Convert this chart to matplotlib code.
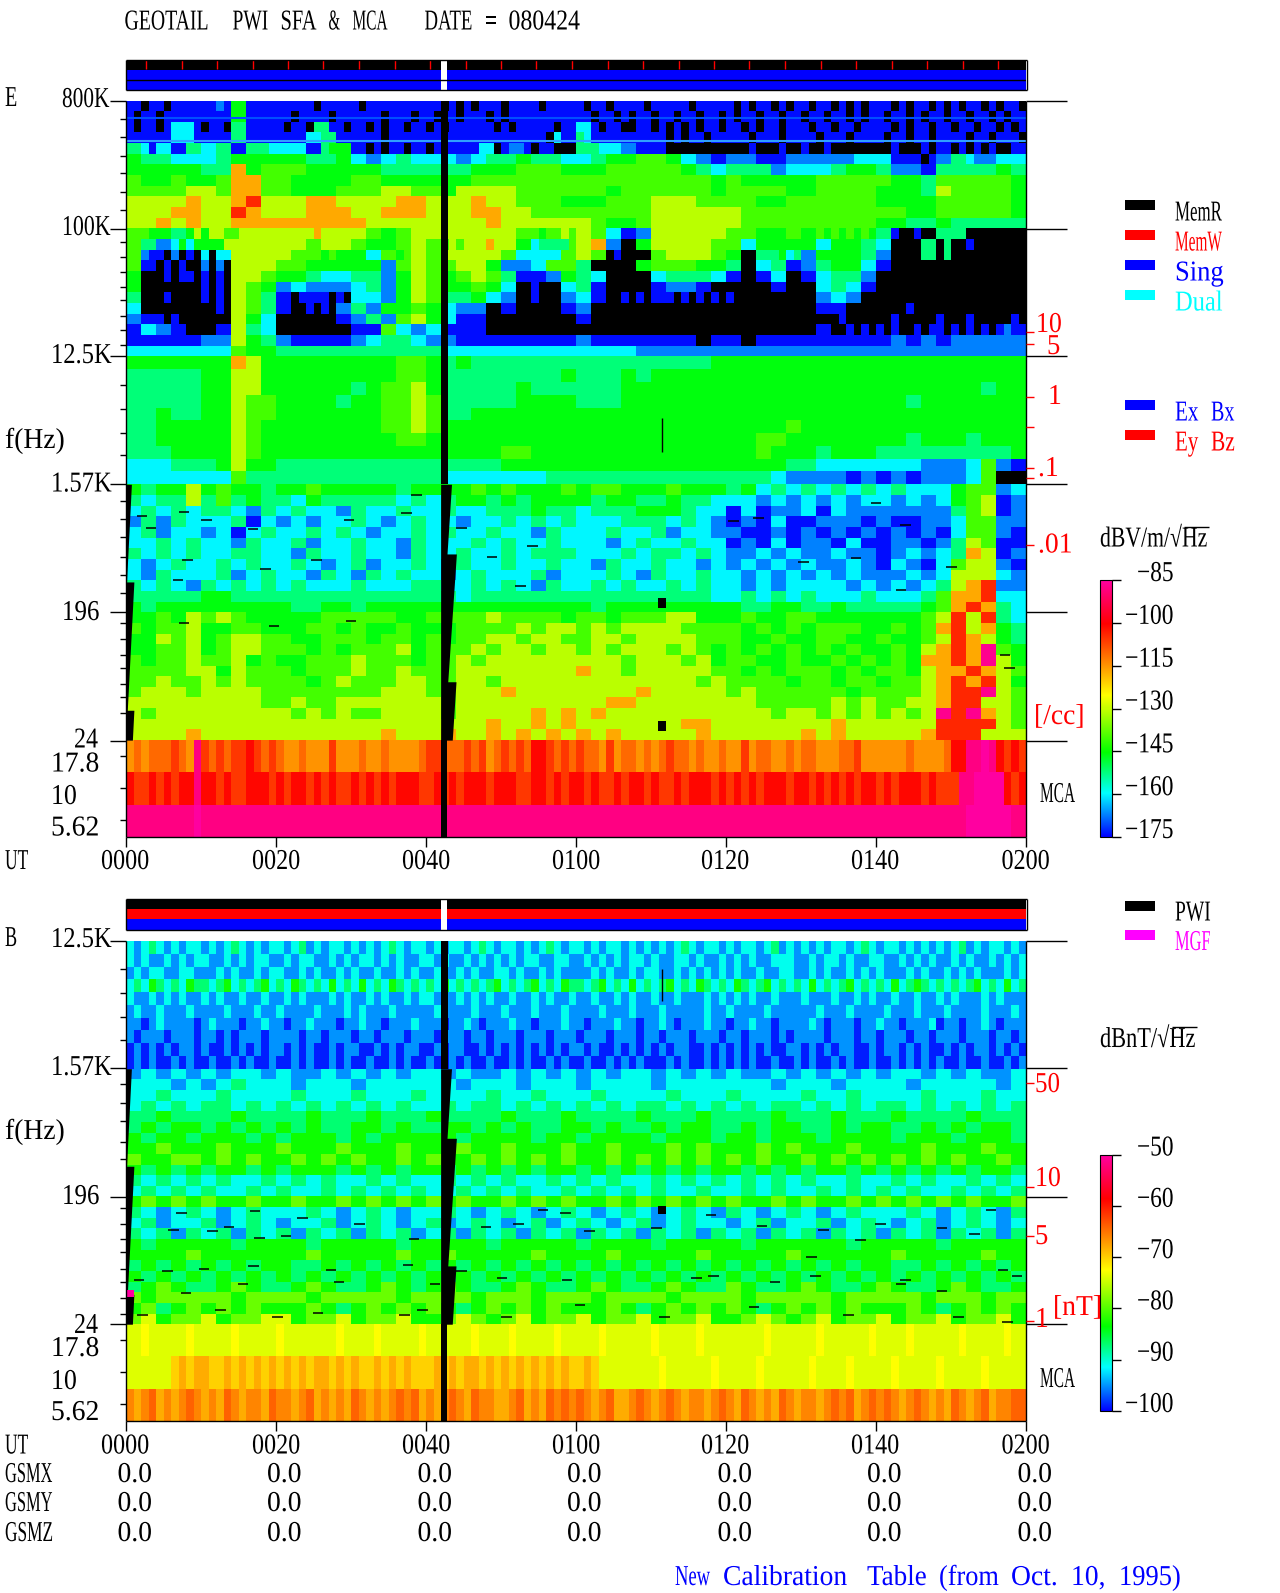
"""
GEOTAIL PWI SFA & MCA summary plot, redrawn with matplotlib.
Spectrogram levels are read by eye from the picture, one code per cell.
"""
import matplotlib
matplotlib.use("Agg")
import matplotlib.pyplot as plt
import matplotlib.patheffects as pe
import numpy as np
from matplotlib.colors import LinearSegmentedColormap, Normalize
from matplotlib.font_manager import FontProperties
from matplotlib.textpath import TextPath
from matplotlib.transforms import Affine2D

W, H = 1280, 1593
FONT = "Liberation Serif"

# level code -> dB, E panel and B panel
E_DB = {'0': -190, '1': -174, '2': -167, '3': -160, '4': -152, '5': -146, '6': -140, '7': -131,
        '8': -117, '9': -104, 'p': -87, 'a': -115, 'b': -111, 'c': -106, 'd': -101, 'e': -88, 'f': -85}
B_DB = {'0': -110, '1': -99, '2': -95, '3': -91, '4': -87, '5': -83, '6': -79, '7': -74, '8': -68,
        'a': -74, 'b': -72.5, 'c': -70, 'd': -68, 'e': -66, 'f': -64}

# E panel, 800K - 278K, top of the wave band
E_TOP = [
    "1101101111 1121551111 1111101111 1011111111 1101010111 0111101111 "
    "1011011110 1111101111 1010110101 1011010101 1101011010 1011010110",
    "1011011111 1111551111 1101111011 1111011101 1011011101 0111111111 "
    "1101101011 0110110110 1011011011 0110110101 1011010110 1101101011",
    "1011013331 0110441111 1011044110 1101011011 0101111110 1011111011 "
    "3310110011 0101010110 1101011011 1011011011 1101011011 0110110101",
    "1111113331 1111441111 1111334411 1111011111 1111111111 1111110311 "
    "4311111111 1101011011 1110111011 1101110111 1011011011 1101101110",
    "4431331144 3344114443 3333114555 1101011011 0111111330 1221011000 "
    "4443332211 1100000000 0001000100 1001000000 0010001011 0101010011",
    "5544443333 3344555555 5555444455 3322334433 3333223344 4455444433 "
    "3344555566 6655332211 2222111122 2222222333 3311110122 4432223333",
]
# E panel, 278K - 98K, core of the wave band
E_CORE = [
    "5555544856 6655555444 4445556665 5566666543 4442333455 4221444454",
    "6556556886 6555566555 5556666666 6666666665 6555556666 6554666665",
    "6666776886 6555666776 6577776666 6656666665 6666556666 5554766665",
    "7777877897 7788777788 7778776665 5566677766 6655666666 5555666665",
    "7778877987 7788877888 7778877666 6666677777 7666666666 6655666665",
    "7787877888 8888887777 7777877777 7655677777 7666666666 5544544444",
]
# E panel, 98K - 12.5K, fingers reaching down into the black
E_FINGERS = [
    "6665554457 5776677777 7777787777 7766556677 7777777777 7766656676 "
    "7766331122 7777777777 6666555566 5565656565 4410010044 4400000000",
    "6644223535 5557777777 7777667777 6655556677 6667677787 7755344446 "
    "7788220055 7777777766 6633555555 5533555544 3300004404 0010000000",
    "6621102010 3033777777 7766665655 5533665677 6677777777 6633333366 "
    "7766010000 6677777766 5500444534 2255555544 2200004404 0000000000",
    "6611010100 2020777777 6666555555 5555226677 6666777755 2222336666 "
    "4400000055 6666665555 4400334411 2244555533 1100000000 0000000000",
    "5500010110 1010777766 5555443333 4444225577 6655667766 4411112255 "
    "4433000000 3344444433 1100113300 1133444422 0000000000 0000000000",
    "5500000000 1010776655 2233222222 3344225577 6655556655 3300100033 "
    "4411000000 1122221100 0000001100 0033443311 0000000000 0000000000",
    "4400010000 1010776644 1101111010 3333225577 6644445533 2200100022 "
    "3311001010 1110101010 1000000000 0022332200 0000000000 0000000000",
    "3300000000 0010776644 1100101022 4422555566 5533222200 1100000011 "
    "2200000000 0000000000 0000000000 0011110000 0000100000 0000000000",
    "2211101000 0000775533 0000000011 2244226677 5533111100 0000000000 "
    "1100000000 0000000000 0000000000 0000010000 0010000010 0010000010",
    "1133221100 0011774433 0000000000 1111663322 3311111100 0000000000 "
    "0000000000 0000000000 0000000000 0011001010 1010010110 1010101211",
    "1111111111 2222775544 2211111111 2233444433 2222111111 1111111111 "
    "2211111111 1111110011 1100111111 1111111111 1122112211 2222222222",
    "3333333333 3333665555 4444444444 4444444444 4433333333 3333333333 "
    "3333333322 2222222222 2222222222 2222222222 2222222222 2222222222",
]
# two steady lines through the top of the band, Hz
E_LINES_HZ = [591800, 407500]
E_LINE_COLORS = ["#0050ff", "#30a0ff"]

# E panel, 12.5K - 1.57K
E_MID = [
    "5555555875 5555555566 5454444444 4444444445 5555555555 5555555555",
    "4444455775 5555555566 5444444445 4445455555 5555555555 5555555555",
    "4444455775 5555545667 5444445444 4445555555 5555555555 5555555455",
    "4444455766 5555455667 6444445555 4445555555 5555555555 5545555555",
    "4454455766 5555555667 6445555555 5555555555 5555555555 5555555555",
    "4455555765 5555555667 6555555555 5555555555 5555655555 5555555555",
    "4455555765 5555555566 5555555555 5555555555 5566555555 5545554555",
    "4445555765 5555555555 5555566555 5555555555 5565554555 4444444445",
    "3334445755 4444444444 4444455555 5555555555 5555443333 3332223621",
    "3333333644 4444444444 4333333344 4444444444 4443222212 1212223600",
]
# E panel, 1.57K - 24
E_LOW = [
    "5455756554 5565555545 5556565556 5665556555 4534343434 3433356623",
    "4344746454 4354444434 3455454555 5455445443 3323232323 3232356712",
    "3434344324 3433243343 3433444544 3444555433 1312231322 2222246712",
    "2424333413 2323343234 3323343434 3334443432 1213112221 2112236622",
    "3423323134 3343432334 3433433243 3343342332 2112121212 1212136621",
    "3343433243 3423343324 3334343343 3323433433 1213122131 1221247611",
    "4343433443 3243343324 3343343444 3334344343 2232322322 1232348712",
    "3234334343 3432342334 3243343343 3243343323 2323232232 1321367721",
    "3243334234 3324324343 3234333423 3343243343 3232323232 2232377732",
    "4343243434 3433343334 4334343243 3434334343 3232333323 2323478922",
    "4444455444 4444444444 4434444444 4444444443 3434343334 3334688933",
    "5455555555 5445545555 5555555555 5455555555 5445544544 4445689843",
    "5565767655 5556666655 6666766665 6656667755 5655665555 5556797943",
    "6566755665 5566565565 5566667677 6767777666 6565656665 5656897854",
    "5576756776 6556665665 6566776776 6776777766 6556556655 6556798754",
    "5566756776 6656566675 6667677677 6767776765 6565656565 5657898p65",
    "6566766756 5566676665 6676777777 7776777675 6655655656 5658898p75",
    "6666775766 6566676676 6677777777 8776777776 6565666565 6657889876",
    "6676676766 6656766677 6677677777 7777777767 6666566566 5667898975",
    "6777677776 6666666777 6677787777 7777877777 6766666656 6667899p76",
    "7777777776 6766777777 7677777777 7788777777 7766666767 6677899776",
    "7677777777 7676766777 7677777878 7877777777 7776776767 6767p9p876",
    "7777777777 7777777777 7777877878 7777777887 7777777877 7777999976",
    "7777877777 7777777877 7877878787 8787777787 7777787877 7778999777",
]
# thin black dashes (no data) in that band
E_DASH_MIN = [2.1, 7.7, 10.7, 3.3, 16.9, 29.7, 37.4, 38.7, 44.7, 25.4, 8.2, 18.6, 6.9, 54.2,
              48.8, 52.6, 7.7, 19.7, 30.0, 84.3, 81.0, 100.0, 103.9, 103.3, 110.1, 97.3, 90.3,
              117.2, 117.8]
E_DASH_HZ = [921, 977, 861, 753, 743, 861, 964, 1294, 753, 451, 451, 389, 324, 566,
             468, 295, 162, 154, 167, 888, 840, 1137, 792, 276, 400, 463, 436,
             95, 78]
# E panel, MCA channels
E_MCA = [
    "ababbbcbae cbcbccdcbc baabaaacaa abaabaaaab ccbbbcbcab cbcbddcbcb "
    "cbbacabbab abcbbabaab aacabbaaba bbaaabbcaa aaaabaaaab ddeefedcdc",
    "dccdcdcdde ddcdccdddc dcddcdcdcc dcdcdcdddc cdcdcdddcd ddccddcdcd "
    "dcdccdcddc dccdcdddcd cdcdcdddcd dcdcdcdcdd cdcdddcdcc ceeffffdcd",
    "eeeeeeeeef eeeeeeeeee eeeeeeeeee eeeeeeeeee eeeeeeeeee eeeeeeeeee "
    "eeeeeeeeee eeeeeeeeee eeeeeeeeee eeeeeeeeee eeeeeeeeee eeffffffee",
]

# B panel, 12.5K - 1.57K
B_HIGH = [
    "3234323233 2323432323 3234232332 3232343233 2323323432 3323234323 "
    "3232332323 2323432332 3233234232 3232332343 2332323232 3423233232",
    "3232232323 3223232332 2323322323 2332323223 3232232323 2323322332 "
    "2323232332 3223323223 2323223332 2323323223 3223232322 3232232323",
    "2323322332 2232322323 3223232232 3223223232 2322323223 3232232322 "
    "2232322323 3223232323 2322322332 2323223232 3222323223 2323222323",
    "3435434354 4345343453 4354343534 3534354343 4353434345 3434534354 "
    "4345343534 3453435434 3543453434 3534345343 4353454343 4345343534",
    "3223232322 3232232232 2323222323 2232322323 3222323232 2322323223 "
    "2232232322 3223222323 2323223222 3222322323 2232232232 3222323222",
    "2322322232 2223222322 3222232223 2322232222 2322223222 3222322232 "
    "2223222322 2322222322 3222232222 2232223222 2322232223 2222322232",
    "2212322221 2322212232 2122322212 2322122232 2212232122 2322122232 "
    "2122232212 2321222322 1223221222 2321222122 3221222312 2122321222",
    "2122212221 2212122212 2221221222 1221222122 2122212212 2212221222 "
    "1222122212 2122212221 2212221212 2221222122 1222122122 2122212212",
    "1212121221 2112121212 2121211212 2112121221 1212211212 1212121212 "
    "2121121212 1212211212 1212121122 1212122112 1221212112 1212212121",
    "1212112121 1211212112 1121211212 1121121211 2112121121 1212112121 "
    "1211212121 1121211212 1212112112 1211212112 1121212121 1211211212",
]
# B panel, 1.57K - 24
B_LOW = [
    "2323232332 3223232323 3232232323 2323323232 3223232323 2332323223",
    "3332323433 3233323333 3323332333 2333323333 3332333233 3323333323",
    "3343334333 3433343334 3333433433 3433334333 4333343343 3334333433",
    "3434344343 4343434343 3434434343 4343443434 3434434343 4434343434",
    "4454444544 4454445444 5444454445 4444544454 4445444544 4544445444",
    "4545545454 5454455454 4554545445 5454454554 4545544545 5445454554",
    "5455455545 4555454555 5545555455 4555545554 5545554555 5455545554",
    "5565556555 6555655565 5565565556 5565556565 5565655565 5556555655",
    "6556656565 5656565565 6556565656 5565656565 6565565656 5656565565",
    "5454545545 4555454545 5454545455 4545454545 5454545545 4545454554",
    "4343434334 3434334343 3434343343 4343343434 3434343343 3434334343",
    "3434343343 4334343434 3343434334 3434343343 3434334343 4343343434",
    "5656565565 5655656565 6565565656 5565656565 6556565565 6565656556",
    "4323432343 3343234323 3432343234 3234323432 4323432343 3343234324",
    "3423342343 2334234323 4234323423 4323423433 2342334234 3234234323",
    "4342434243 4243424342 3424342434 2434243424 3424342434 2434243424",
    "5455555455 5545555545 5555455555 4555545555 5455555545 5555455555",
    "5555655555 5565555565 5655555655 5565555565 5555655555 5655555655",
    "4545454545 5445454545 4545454545 4545454545 4545454545 5445454545",
    "5454545454 5454545454 5454545454 5454545454 5454545454 5454545454",
    "4565445654 4565445654 5654456544 5654456544 6544565445 6544565445",
    "6566666566 6656666656 6665666566 6566665666 6566666566 6665666566",
    "5645656565 5565456565 6545656565 5565456565 6545656565 5565456565",
    "6756675667 7566756675 5676567566 7566756675 5676567566 7566756675",
]
B_DASH_MIN = [7.4, 17.2, 23.5, 6.3, 11.5, 17.8, 21.3, 13.7, 31.1, 38.4, 48.0, 55.6, 61.8, 52.3,
              58.6, 37.6, 27.3, 17.0, 10.4, 5.5, 1.7, 15.6, 28.4, 41.2, 8.0, 44.7, 50.1, 58.8,
              25.6, 39.5, 12.6, 2.2, 50.7, 60.5, 37.1, 20.2,
              70.7, 78.0, 84.8, 93.0, 100.6, 108.8, 115.3, 113.1, 91.4, 76.1, 78.3, 86.5,
              91.9, 103.9, 108.8, 116.9, 118.8, 71.8, 83.7, 96.3, 111.0, 117.5, 103.3, 97.9]
B_DASH_HZ = [147, 152, 136, 111, 110, 98, 101, 116, 122, 96, 116, 155, 110, 122,
             147, 63, 58, 62, 59, 57, 49, 46, 48, 46, 40, 57, 51, 49,
             29, 30, 30, 28, 27, 33, 28, 27,
             114, 142, 118, 111, 122, 114, 155, 104, 72, 51, 53, 48,
             53, 49, 41, 58, 53, 27, 32, 28, 27, 25, 46, 95]
# B panel, MCA channels
B_MCA = [
    "aabaaaaaba aaaabaaaaa baaaaaaaba aaabaaaaab aaaaaabaaa abaaaaabaa "
    "aaabaaaaaa baaaaabaaa aaaaabaaaa aabaaaaaab aaaabaaaaa abaaaaabaa",
    "aaaaaacdcd dccdcdcdcd cdcdcddcdc dccdcdcdcc cdcdcddcdc dcdcdcdcdc "
    "cdcaaaaaaa abaaaaaaba aaaabaaaaa abaaaabaaa aabaaaaaba aaaabaaaaa",
    "edefdedefe dedfedeedf eedefdeded fededefefd edefedfeed defdedfefe "
    "fedefddefe defedeedef edfededfed eedefefdef efedefeded fedefdeeff",
]

# wedge of missing data at the start of the plot and at the gap: Hz and minutes
WEDGE_HZ = [1536, 314, 314, 39, 39, 24]
WEDGE_START_MIN = [0.72, 0.07, 1.05, 0.17, 1.05, 0.85]
GAP_HZ = [1536, 495, 495, 62, 62, 24]
GAP_END_MIN = [43.4, 42.8, 44.05, 42.9, 44.0, 43.5]
GAP_START, GAP_END, GAP_END_HIGH = 41.95, 42.8, 42.95

# memory read marks on the top bar, minutes
MEM_MARKS = [2.7, 7.4, 12.1, 16.9, 21.6, 26.3, 31.1, 35.8, 40.5, 45.3, 50.0, 54.7, 59.5,
             64.2, 68.9, 73.7, 78.4, 83.1, 87.9, 92.6, 97.3, 102.1, 106.8, 111.6, 116.3]
UT_MINUTES = [0, 20, 40, 60, 80, 100, 120]
UT_LABELS = ["0000", "0020", "0040", "0100", "0120", "0140", "0200"]
GSM_NAMES = ["GSMX", "GSMY", "GSMZ"]
GSM_VALUES = ["0.0", "0.0", "0.0", "0.0", "0.0", "0.0", "0.0"]
E_CB_TICKS = [-85, -100, -115, -130, -145, -160, -175]
B_CB_TICKS = [-50, -60, -70, -80, -90, -100]

rainbow = LinearSegmentedColormap.from_list("pwi", [
    (0.0, "#0000ff"), (0.17, "#00ffff"), (0.33, "#00ff00"), (0.55, "#ffff00"),
    (0.67, "#ff9000"), (0.83, "#ff0000"), (1.0, "#ff00a0")], N=256)
rainbow.set_under("black")


class Squeezed(pe.AbstractPathEffect):
    # the plot font is tall and narrow, so scale the glyphs about the text origin
    def __init__(self, sx, sy):
        super().__init__()
        self.sx, self.sy = sx, sy

    def draw_path(self, renderer, gc, tpath, affine, rgbFace=None):
        ox, oy = affine.transform((0, 0))
        t = affine + Affine2D().translate(-ox, -oy).scale(self.sx, self.sy).translate(ox, oy)
        renderer.draw_path(gc, tpath, t, rgbFace)


def word(x, y, s, color="black"):
    em = 24
    w = TextPath((0, 0), s, size=em, prop=FontProperties(family=FONT)).get_extents().width
    sx = min(1.15, max(0.55, (11.9 * len(s) - 1.2) / w))
    over.text(x, y, s, family=FONT, fontsize=em * 72 / 100, color=color, ha="left", va="baseline",
              path_effects=[Squeezed(sx, 1.2)])


def mono(x, y, s, color="black"):
    # every character has the same cell, as on the original plotter
    i = 0
    for part in s.split(" "):
        if part:
            word(x + i * 12, y, part, color)
        i += len(part) + 1


def panel(left, top, right, bottom):
    ax = fig.add_axes([left / W, 1 - bottom / H, (right - left) / W, (bottom - top) / H])
    ax.set_xlim(0, 120)
    ax.set_axis_off()
    return ax


def block(ax, rows, f_top, f_bottom, table, norm):
    rows = [r.replace(" ", "") for r in rows]
    n = max(len(r) for r in rows)
    z = np.array([[table[c] for c in r.ljust(n, r[-1])] for r in rows])
    x = np.linspace(0, 120, n + 1)
    y = np.geomspace(f_top, f_bottom, len(rows) + 1)
    return ax.pcolormesh(x, y, z, cmap=rainbow, norm=norm, shading="flat", antialiased=False)


def missing_data(ax, f_max, f_min):
    ax.fill_betweenx(WEDGE_HZ, 0, WEDGE_START_MIN, color="black", lw=0, zorder=3)
    ax.fill_betweenx(GAP_HZ, GAP_START, GAP_END_MIN, color="black", lw=0, zorder=3)
    ax.fill_betweenx([f_max, 1536], GAP_START, GAP_END_HIGH, color="black", lw=0, zorder=3)
    ax.fill_betweenx([24, f_min], GAP_START, GAP_END, color="black", lw=0, zorder=3)


def dashes(ax, minutes, hz):
    t = np.array(minutes)
    ax.hlines(hz, t - 0.7, t + 0.7, color="black", lw=1.1, zorder=2)


def status_bar(top, bottom, colors):
    ax = panel(126, top, 1026, bottom)
    ax.set_ylim(len(colors), 0)
    for i, c in enumerate(colors):
        ax.broken_barh([(0.1, GAP_START - 0.1), (GAP_END, 120 - GAP_END)], (i, 1), color=c, lw=0)
    return ax


def hline(y, x0, x1, color="black", lw=1.0):
    over.plot([x0, x1], [y, y], color=color, lw=lw, solid_capstyle="butt")


def vline(x, y0, y1, color="black", lw=1.0):
    over.plot([x, x], [y0, y1], color=color, lw=lw, solid_capstyle="butt")


def colorbar(mesh, top, bottom, ticks, norm):
    cax = fig.add_axes([1100 / W, 1 - bottom / H, 12 / W, (bottom - top) / H])
    cb = fig.colorbar(mesh, cax=cax, ticks=[], extend="neither")
    cb.outline.set_linewidth(0.8)
    for v in ticks:
        y = bottom - (v - norm.vmin) / (norm.vmax - norm.vmin) * (bottom - top)
        hline(y, 1112, 1121)
        mono(1125 if v <= -100 else 1137, y + 1, "\u2212" + str(abs(v)))


def axis_frame(top, bottom, majors, minors):
    vline(126, top, bottom)
    vline(1026, top, bottom)
    hline(bottom, 126, 1026)
    for y in majors:
        hline(y, 110, 126)
        hline(y, 1026, 1067)
    for y in minors:
        hline(y, 120, 126)
    for m in UT_MINUTES:
        x = 126 + m * 7.5
        vline(x, bottom, bottom + 10)


def bar_frame(top, bottom):
    hline(top, 125.5, 1026.5)
    hline(bottom, 125.5, 1026.5)
    vline(125.5, top, bottom)
    vline(1026.5, top, bottom)


fig = plt.figure(figsize=(W / 100, H / 100), dpi=100, facecolor="white")

# ---- E panel ----
e_norm = Normalize(-175, -85)
ax_e = panel(126, 100.5, 1026, 837)
ax_e.set_yscale("log")
ax_e.set_ylim(4.97, 786432)
block(ax_e, E_TOP, 786432, 278045, E_DB, e_norm)
block(ax_e, E_CORE, 278045, 98304, E_DB, e_norm)
block(ax_e, E_FINGERS, 98304, 12288, E_DB, e_norm)
block(ax_e, E_MID, 12288, 1536, E_DB, e_norm)
e_mesh = block(ax_e, E_LOW, 1536, 24, E_DB, e_norm)
block(ax_e, E_MCA, 24, 4.97, E_DB, e_norm)
ax_e.hlines(E_LINES_HZ, 0, 120, colors=E_LINE_COLORS, lw=1.5, zorder=2)
dashes(ax_e, E_DASH_MIN, E_DASH_HZ)
missing_data(ax_e, 786432, 4.97)
ax_e.vlines(71.4, 2600, 4500, color="black", lw=1, zorder=3)
ax_e.fill_between([70.9, 72.0], 205, 240, color="black", lw=0, zorder=3)
ax_e.fill_between([70.9, 72.0], 28, 33, color="black", lw=0, zorder=3)

bar_e = status_bar(59.5, 89.5, ["black", "#0000ff", "#0000ff"])
bar_e.vlines(MEM_MARKS, 0.08, 0.9, color="#ff0000", lw=1)
bar_e.hlines(2, 0, 120, color="black", lw=1)

# ---- B panel ----
b_norm = Normalize(-100, -50)
b_bottom = 24 * 8 ** (-97 / 128)
ax_b = panel(126, 941, 1026, 1421)
ax_b.set_yscale("log")
ax_b.set_ylim(b_bottom, 12288)
block(ax_b, B_HIGH, 12288, 1536, B_DB, b_norm)
b_mesh = block(ax_b, B_LOW, 1536, 24, B_DB, b_norm)
block(ax_b, B_MCA, 24, b_bottom, B_DB, b_norm)
dashes(ax_b, B_DASH_MIN, B_DASH_HZ)
missing_data(ax_b, 12288, b_bottom)
ax_b.vlines(71.4, 4600, 7800, color="black", lw=1, zorder=3)
ax_b.fill_between([70.9, 72.0], 145, 165, color="black", lw=0, zorder=3)
ax_b.fill_between([0.07, 1.05], 37.5, 42, color="#ff00a0", lw=0, zorder=4)

status_bar(899, 929.5, ["black", "#ff0000", "#0000ff"])

# ---- everything else is placed in picture pixels ----
over = fig.add_axes([0, 0, 1, 1], zorder=10)
over.set_xlim(0, W)
over.set_ylim(H, 0)
over.set_axis_off()
over.patch.set_alpha(0)

mono(124.5, 29.5, "GEOTAIL  PWI SFA & MCA   DATE = 080424")
bar_frame(59.5, 89.5)
bar_frame(899, 929.5)

# E axis
axis_frame(100.5, 837, [100.5, 228.5, 356, 484, 612, 740.5],
           [119, 137, 156, 173, 192, 210, 242, 257, 272, 287, 300, 316, 330, 345,
            385, 409, 433, 455, 501, 519, 537, 557, 575, 593, 623, 639, 655, 668,
            684, 697, 713, 756, 788, 820])
for x, y, s in [(5, 106, "E"), (62, 107, "800K"), (62, 235, "100K"), (51, 363, "12.5K"),
                (5, 448, "f(Hz)"), (51, 491.5, "1.57K"), (62, 620, "196"), (74, 747.5, "24"),
                (51, 771.5, "17.8"), (51, 804, "10"), (51, 835.5, "5.62"), (5, 869, "UT"),
                (1040, 802, "MCA")]:
    mono(x, y, s)
for y in [332, 344, 397, 427, 468, 478, 545]:
    hline(y, 1026, 1034, "#ff0000")
for x, y, s in [(1036, 332, "10"), (1047, 354, "5"), (1048, 404, "1"), (1038, 476, ".1"),
                (1038, 552.5, ".01"), (1034, 724, "[/cc]")]:
    mono(x, y, s, "#ff0000")
for x_t, s in zip([101, 252, 402, 552, 701, 851, 1001.5], UT_LABELS):
    mono(x_t, 869, s)

# E legends
for y, c, s, tc in [(200, "black", "MemR", "black"), (230, "#ff0000", "MemW", "#ff0000"),
                    (260, "#0000ff", "Sing", "#0000ff"), (290, "#00ffff", "Dual", "#00ffff"),
                    (400, "#0000ff", "Ex Bx", "#0000ff"), (430, "#ff0000", "Ey Bz", "#ff0000")]:
    over.fill_between([1125, 1155], y, y + 10, color=c, lw=0)
    mono(1175, y + 20.5, s, tc)

# E colour scale
mono(1100, 546.5, "dBV/m/\u221aHz")
hline(527, 1184, 1209)
colorbar(e_mesh, 580, 837, E_CB_TICKS, e_norm)

# B axis
axis_frame(941, 1421, [941, 1068, 1196.5, 1324],
           [969, 993, 1017, 1040, 1084, 1103, 1121, 1142, 1159, 1207.5, 1224, 1239, 1252,
            1268.5, 1281.5, 1298, 1314, 1340, 1372, 1404])
for x, y, s in [(5, 946, "B"), (51, 947, "12.5K"), (51, 1075, "1.57K"), (5, 1139, "f(Hz)"),
                (62, 1204, "196"), (74, 1333, "24"), (51, 1356, "17.8"), (51, 1389, "10"),
                (51, 1420, "5.62"), (5, 1453.5, "UT"), (1040, 1387, "MCA")]:
    mono(x, y, s)
for y in [1083, 1187, 1236, 1321]:
    hline(y, 1026, 1034, "#ff0000")
for x, y, s in [(1035, 1092, "50"), (1035, 1186, "10"), (1035, 1244, "5"), (1035, 1327, "1"),
                (1053, 1315, "[nT]")]:
    mono(x, y, s, "#ff0000")
for x_t, s in zip([101, 252, 402, 552, 701, 851, 1001.5], UT_LABELS):
    mono(x_t, 1453.5, s)
for name, y in zip(GSM_NAMES, [1482, 1511, 1541]):
    mono(5, y, name)
    for x_t, v in zip([117.5, 267, 417.5, 567, 717.5, 867, 1017.5], GSM_VALUES):
        mono(x_t, y, v)

# B legends
for y, c, s in [(900.5, "black", "PWI"), (930, "#ff00ff", "MGF")]:
    over.fill_between([1125, 1155], y, y + 10, color=c, lw=0)
    mono(1175, y + 20, s, c)

# B colour scale
mono(1100, 1047, "dBnT/\u221aHz")
hline(1027, 1172, 1197)
colorbar(b_mesh, 1154.5, 1411, B_CB_TICKS, b_norm)

mono(675, 1585, "New Calibration Table (from Oct. 10, 1995)", "#0000ff")

fig.savefig("out.png", dpi=100, facecolor="white")
